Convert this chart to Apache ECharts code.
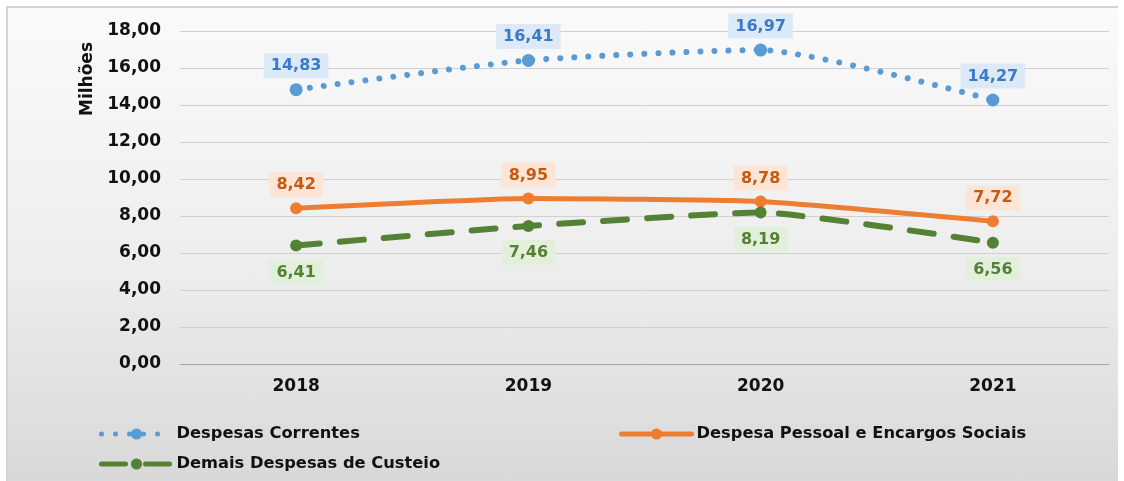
<!DOCTYPE html>
<html>
<head>
<meta charset="utf-8">
<script src="https://cdn.jsdelivr.net/npm/echarts@6/dist/echarts.min.js"></script>
<style>
  html, body { margin: 0; padding: 0; background: #fff; }
  .frame {
    position: absolute; left: 6px; top: 6px; width: 1110px; height: 475px;
    border: 2px solid #d4d4d4; border-bottom: none; border-right: none;
    background: linear-gradient(to bottom, #fafafa 0%, #ededed 55%, #d8d8d8 100%);
  }
  #chart { position: absolute; left: 0; top: 0; width: 1124px; height: 481px; }
</style>
</head>
<body>
<div class="frame"></div>
<div id="chart"></div>
<script>
// dados do gráfico
const anos = ['2018', '2019', '2020', '2021']
const despesasCorrentes = [14.83, 16.41, 16.97, 14.27]
const despesaPessoal = [8.42, 8.95, 8.78, 7.72]
const demaisCusteio = [6.41, 7.46, 8.19, 6.56]

const fmt = v => v.toFixed(2).replace('.', ',')
const fonte = 'DejaVu Sans, Liberation Sans, Arial, sans-serif'

const chart = echarts.init(document.getElementById('chart'))

const labelBase = {
  show: true,
  fontFamily: fonte,
  fontWeight: 'bold',
  fontSize: 16,
  padding: [5, 7, 4, 7],
  distance: 5,
  formatter: p => fmt(p.value)
}

const legendText = {
  fontFamily: fonte,
  fontWeight: 'bold',
  fontSize: 16.3,
  color: '#111'
}

const legendBase = {
  itemWidth: 70,
  itemHeight: 14,
  itemGap: 6,
  textStyle: legendText,
  lineStyle: { width: 5, cap: 'round' }
}

const option = {
  animation: false,
  backgroundColor: 'transparent',
  grid: { left: 180, right: 15, top: 31, bottom: 117 },
  legend: [
    Object.assign({ data: ['Despesas Correntes'], left: 94, top: 421 }, legendBase),
    Object.assign({ data: ['Despesa Pessoal e Encargos Sociais'], left: 614, top: 421 }, legendBase),
    Object.assign({ data: ['Demais Despesas de Custeio'], left: 94, top: 451 }, legendBase)
  ],
  graphic: [{
    type: 'text',
    x: 88, y: 79,
    rotation: Math.PI / 2,
    style: {
      text: 'Milhões',
      align: 'center',
      verticalAlign: 'middle',
      fontFamily: fonte,
      fontWeight: 'bold',
      fontSize: 17,
      fill: '#111'
    }
  }],
  xAxis: {
    type: 'category',
    data: anos,
    axisLine: { lineStyle: { color: '#a6a6a6', width: 1 } },
    axisTick: { show: false },
    axisLabel: {
      margin: 14,
      fontFamily: fonte,
      fontWeight: 'bold',
      fontSize: 17,
      color: '#111'
    }
  },
  yAxis: {
    type: 'value',
    min: 0, max: 18, interval: 2,
    axisLine: { show: false },
    axisTick: { show: false },
    splitLine: { lineStyle: { color: '#d0d0d0', width: 1 } },
    axisLabel: {
      margin: 19,
      formatter: v => fmt(v),
      fontFamily: fonte,
      fontWeight: 'bold',
      fontSize: 17,
      color: '#111'
    }
  },
  series: [
    {
      name: 'Despesas Correntes',
      type: 'line',
      data: despesasCorrentes,
      smooth: 0.2,
      symbol: 'circle',
      symbolSize: 13,
      itemStyle: { color: '#5b9bd5' },
      lineStyle: { color: '#5b9bd5', width: 6, type: [0.01, 14], cap: 'round' },
      label: Object.assign({}, labelBase, {
        position: 'top', color: '#3a7bc8', backgroundColor: '#dce9f7'
      })
    },
    {
      name: 'Despesa Pessoal e Encargos Sociais',
      type: 'line',
      data: despesaPessoal,
      smooth: 0.15,
      symbol: 'circle',
      symbolSize: 12,
      itemStyle: { color: '#ed7d31' },
      lineStyle: { color: '#ed7d31', width: 5, cap: 'round' },
      label: Object.assign({}, labelBase, {
        position: 'top', color: '#c55a11', backgroundColor: '#fce4d6'
      })
    },
    {
      name: 'Demais Despesas de Custeio',
      type: 'line',
      data: demaisCusteio,
      smooth: 0.15,
      symbol: 'circle',
      symbolSize: 12,
      itemStyle: { color: '#548235' },
      lineStyle: { color: '#548235', width: 6, type: [24, 20], cap: 'round' },
      label: Object.assign({}, labelBase, {
        position: 'bottom', distance: 8, color: '#548235', backgroundColor: '#e2efda'
      })
    }
  ]
}

chart.setOption(option)
</script>
</body>
</html>
